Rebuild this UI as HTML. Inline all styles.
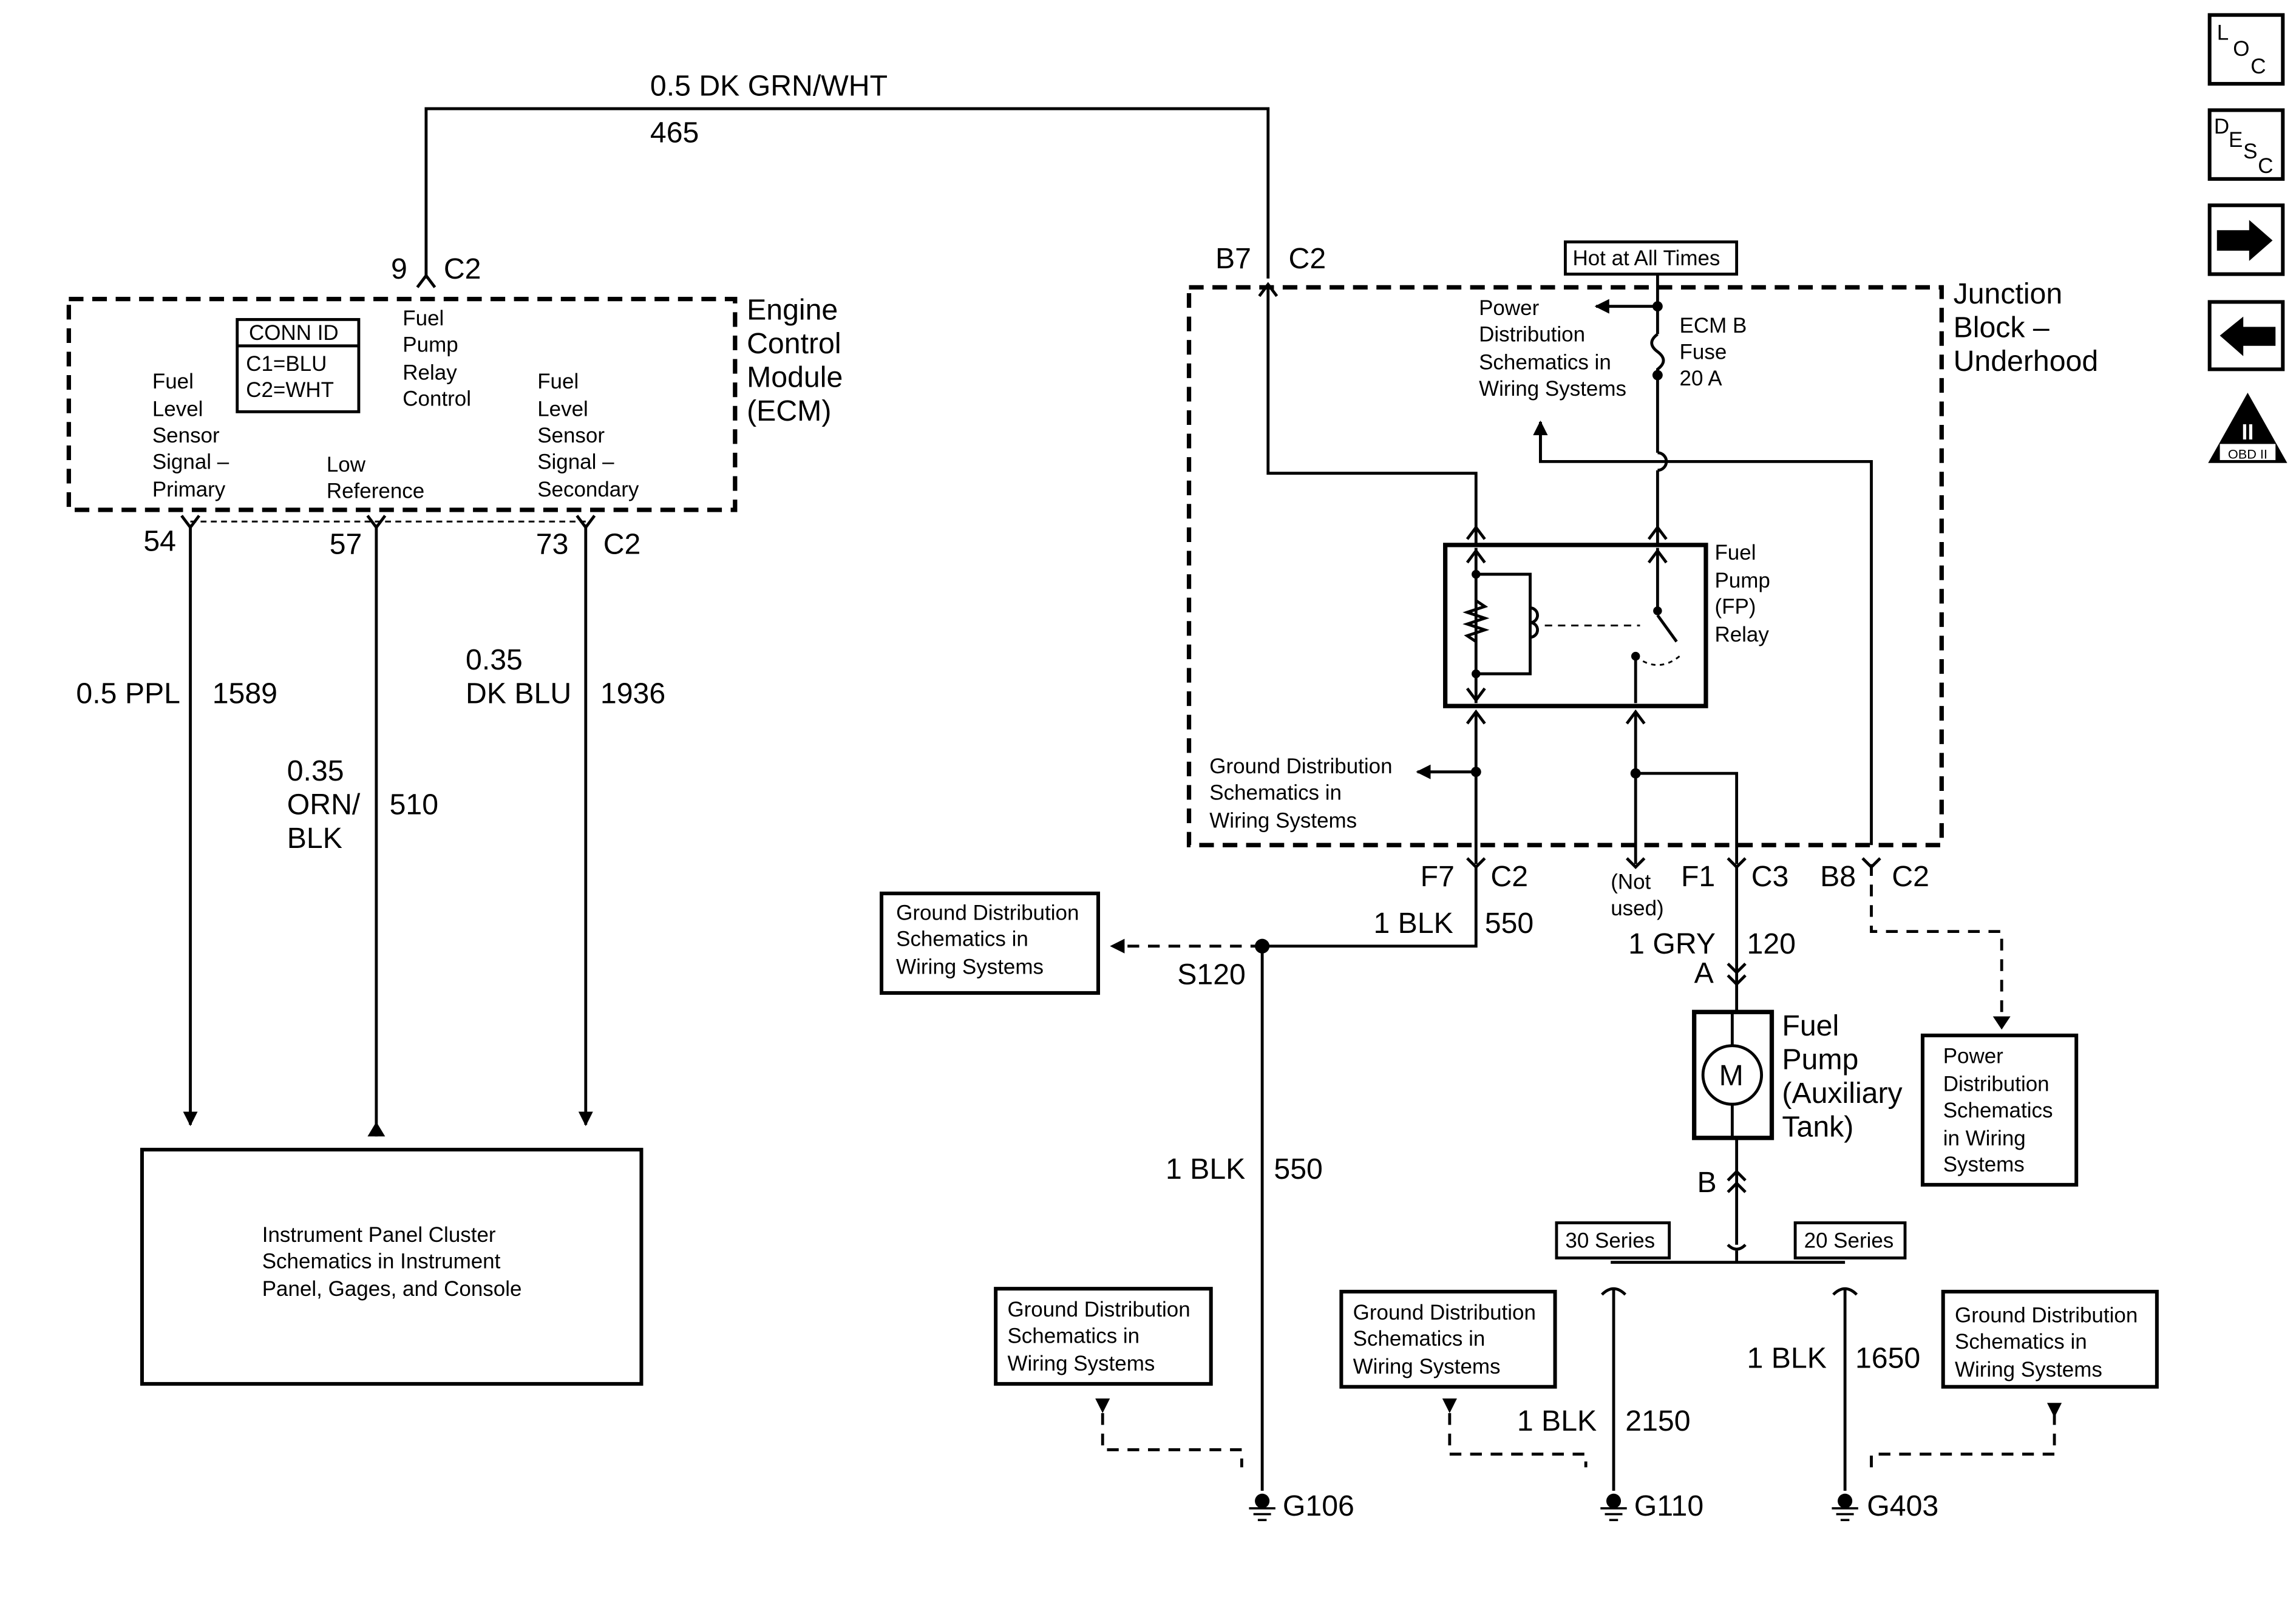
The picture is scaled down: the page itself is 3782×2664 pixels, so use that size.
<!DOCTYPE html>
<html><head><meta charset="utf-8">
<style>
html,body{margin:0;padding:0;background:#fff;}
svg{display:block;}
text{font-family:"Liberation Sans",Arial,sans-serif;fill:#000;}
.b{font-size:20px;}
.s{font-size:14.5px;}
</style></head>
<body>
<svg width="3782" height="2664" viewBox="0 0 1568 1104" xmlns="http://www.w3.org/2000/svg">
<defs>
<marker id="ar" markerWidth="10" markerHeight="10" refX="9" refY="5" orient="auto" markerUnits="userSpaceOnUse"><path d="M0,0 L10,5 L0,10 z" fill="#000"/></marker>
</defs>
<g fill="none" stroke="#000" stroke-width="2">
<!-- top wire -->
<polyline points="291,190 291,74 866,74 866,190"/>
<path d="M285,196 L291,188 L297,196"/>
<!-- ECM box -->
<rect x="47" y="204" width="455" height="144" stroke-width="3" stroke-dasharray="10,6"/>
<rect x="162" y="218" width="83" height="63"/>
<line x1="162" y1="236" x2="245" y2="236"/>
<line x1="130" y1="356" x2="400" y2="356" stroke-width="1.2" stroke-dasharray="4,3"/>
<path d="M124,352 L130,360 L136,352 M251,352 L257,360 L263,352 M394,352 L400,360 L406,352"/>
<line x1="130" y1="358" x2="130" y2="768" marker-end="url(#ar)"/>
<line x1="257" y1="358" x2="257" y2="776"/>
<line x1="400" y1="358" x2="400" y2="768" marker-end="url(#ar)"/>
<rect x="97" y="785" width="341" height="160" stroke-width="2.5"/>
<!-- Junction block -->
<rect x="812" y="196" width="514" height="381" stroke-width="3" stroke-dasharray="10,6"/>
<path d="M860,202 L866,194 L872,202"/>
<polyline points="866,196 866,323 1008,323 1008,372"/>
<path d="M1002,368 L1008,360 L1014,368 M1126,368 L1132,360 L1138,368"/>
<rect x="1069" y="165" width="117" height="22"/>
<line x1="1132" y1="187" x2="1132" y2="228"/>
<line x1="1132" y1="209" x2="1090" y2="209" marker-end="url(#ar)"/>
<path d="M1132,228 q-8,6 0,12 q8,6 0,12 l0,4"/>
<line x1="1132" y1="256" x2="1132" y2="309"/>
<path d="M1132,309 a6,6 0 0 1 0,12"/>
<line x1="1132" y1="321" x2="1132" y2="372"/>
<polyline points="1052,288 1052,315 1278,315 1278,577"/>
<line x1="1052" y1="315" x2="1052" y2="288" marker-end="url(#ar)"/>
<!-- relay -->
<rect x="987" y="372" width="178" height="110" stroke-width="3"/>
<line x1="1008" y1="374" x2="1008" y2="480"/>
<polyline points="1008,392 1045,392 1045,460 1008,460"/>
<path d="M1008,410 l6,4 l-12,4 l12,4 l-12,4 l12,4 l-12,4 l6,4"/>
<path d="M1045,415 a5,5 0 0 1 0,10 a5,5 0 0 1 0,10"/>
<line x1="1055" y1="427" x2="1120" y2="427" stroke-dasharray="5,4" stroke-width="1.2"/>
<line x1="1132" y1="374" x2="1132" y2="417"/>
<line x1="1132" y1="420" x2="1145" y2="438"/>
<line x1="1117" y1="448" x2="1117" y2="480"/>
<path d="M1117,448 q15,12 30,0" stroke-dasharray="3,3" stroke-width="1.2"/>
<path d="M1002,384 L1008,376 L1014,384 M1002,470 L1008,478 L1014,470 M1126,384 L1132,376 L1138,384"/>
<path d="M1002,494 L1008,486 L1014,494 M1111,494 L1117,486 L1123,494"/>
<line x1="1008" y1="486" x2="1008" y2="590"/>
<line x1="1008" y1="527" x2="968" y2="527" marker-end="url(#ar)"/>
<line x1="1117" y1="486" x2="1117" y2="590"/>
<polyline points="1117,528 1186,528 1186,590"/>
<path d="M1002,586 L1008,592 L1014,586 M1111,586 L1117,592 L1123,586 M1180,586 L1186,592 L1192,586 M1272,586 L1278,592 L1284,586"/>
<!-- below -->
<polyline points="1008,592 1008,646 862,646 862,1018"/>
<line x1="862" y1="646" x2="766" y2="646" stroke-dasharray="8,6"/>
<rect x="602" y="610" width="148" height="68" stroke-width="2.5"/>
<line x1="1186" y1="592" x2="1186" y2="691"/>
<path d="M1180,658 L1186,664 L1192,658 M1180,666 L1186,672 L1192,666"/>
<rect x="1157" y="691" width="53" height="86" stroke-width="3"/>
<circle cx="1183" cy="734" r="20"/>
<line x1="1183" y1="691" x2="1183" y2="714"/><line x1="1183" y1="754" x2="1183" y2="777"/>
<line x1="1186" y1="777" x2="1186" y2="850"/>
<path d="M1180,806 L1186,800 L1192,806 M1180,814 L1186,808 L1192,814"/>
<path d="M1180,850 q6,6 12,0" />
<line x1="1186" y1="854" x2="1186" y2="862"/>
<line x1="1100" y1="862" x2="1260" y2="862"/>
<rect x="1063" y="835" width="77" height="24"/>
<rect x="1226" y="835" width="75" height="24"/>
<path d="M1094,884 q8,-8 16,0 M1252,884 q8,-8 16,0"/>
<line x1="1102" y1="880" x2="1102" y2="1018"/>
<line x1="1260" y1="880" x2="1260" y2="1018"/>
<polyline points="1278,590 1278,636 1367,636 1367,694" stroke-dasharray="8,6"/>
<rect x="1313" y="707" width="105" height="102" stroke-width="2.5"/>
<rect x="680" y="880" width="147" height="65" stroke-width="2.5"/>
<rect x="916" y="882" width="146" height="65" stroke-width="2.5"/>
<rect x="1327" y="882" width="146" height="65" stroke-width="2.5"/>
<polyline points="753,965 753,990 848,990 848,1002" stroke-dasharray="8,6"/>
<polyline points="990,965 990,993 1083,993 1083,1002" stroke-dasharray="8,6"/>
<polyline points="1403,965 1403,993 1278,993 1278,1002" stroke-dasharray="8,6"/>
<!-- grounds -->
<g stroke-width="1.5">
<line x1="853" y1="1030" x2="871" y2="1030"/><line x1="856" y1="1034" x2="868" y2="1034"/><line x1="859" y1="1038" x2="865" y2="1038"/>
<line x1="1093" y1="1030" x2="1111" y2="1030"/><line x1="1096" y1="1034" x2="1108" y2="1034"/><line x1="1099" y1="1038" x2="1105" y2="1038"/>
<line x1="1251" y1="1030" x2="1269" y2="1030"/><line x1="1254" y1="1034" x2="1266" y2="1034"/><line x1="1257" y1="1038" x2="1263" y2="1038"/>
</g>
<!-- icons -->
<rect x="1509" y="10" width="50" height="47" stroke-width="2.5"/>
<rect x="1509" y="75" width="50" height="47" stroke-width="2.5"/>
<rect x="1509" y="140" width="50" height="47" stroke-width="2.5"/>
<rect x="1509" y="206" width="50" height="46" stroke-width="2.5"/>
</g>
<g fill="#000">
<circle cx="1132" cy="209" r="3.5"/><circle cx="1132" cy="256" r="3.5"/>
<circle cx="1008" cy="527" r="3.5"/><circle cx="1117" cy="528" r="3.5"/>
<circle cx="1008" cy="392" r="3"/><circle cx="1008" cy="460" r="3"/><circle cx="1132" cy="417" r="3"/><circle cx="1117" cy="448" r="3"/>
<circle cx="862" cy="646" r="5"/>
<circle cx="862" cy="1025" r="5"/><circle cx="1102" cy="1025" r="5"/><circle cx="1260" cy="1025" r="5"/>
<path d="M251,776 L257,766 L263,776 z"/>
<path d="M758,646 L768,641 L768,651 z"/>
<path d="M1361,694 L1373,694 L1367,703 z"/>
<path d="M748,955 L758,955 L753,965 z"/>
<path d="M985,955 L995,955 L990,965 z"/>
<path d="M1398,958 L1408,958 L1403,968 z"/>
<path d="M1514,157 L1536,157 L1536,150 L1552,164 L1536,178 L1536,171 L1514,171 z"/>
<path d="M1554,223 L1532,223 L1532,216 L1516,229 L1532,243 L1532,236 L1554,236 z"/>
<path d="M1535,268 L1562,316 L1508,316 z"/>
</g>
<rect x="1516" y="303" width="38" height="11" fill="#fff"/>
<text x="1535" y="313" font-size="9" text-anchor="middle">OBD II</text>
<text x="1535" y="300" font-size="15" text-anchor="middle" fill="#fff" style="fill:#fff" font-weight="bold">II</text>
<text x="1514" y="27" class="s">L</text><text x="1525" y="38" class="s">O</text><text x="1537" y="50" class="s">C</text>
<text x="1512" y="91" class="s">D</text><text x="1522" y="100" class="s">E</text><text x="1532" y="108" class="s">S</text><text x="1542" y="118" class="s">C</text>

<text x="444" y="65" class="b">0.5 DK GRN/WHT</text>
<text x="444" y="97" class="b">465</text>
<text x="267" y="190" class="b">9</text><text x="303" y="190" class="b">C2</text>
<text x="510" y="218" class="b">Engine</text><text x="510" y="241" class="b">Control</text><text x="510" y="264" class="b">Module</text><text x="510" y="287" class="b">(ECM)</text>
<text x="170" y="232" class="s">CONN ID</text><text x="168" y="253" class="s">C1=BLU</text><text x="168" y="271" class="s">C2=WHT</text>
<text x="275" y="222" class="s">Fuel</text><text x="275" y="240" class="s">Pump</text><text x="275" y="259" class="s">Relay</text><text x="275" y="277" class="s">Control</text>
<text x="104" y="265" class="s">Fuel</text><text x="104" y="284" class="s">Level</text><text x="104" y="302" class="s">Sensor</text><text x="104" y="320" class="s">Signal –</text><text x="104" y="339" class="s">Primary</text>
<text x="223" y="322" class="s">Low</text><text x="223" y="340" class="s">Reference</text>
<text x="367" y="265" class="s">Fuel</text><text x="367" y="284" class="s">Level</text><text x="367" y="302" class="s">Sensor</text><text x="367" y="320" class="s">Signal –</text><text x="367" y="339" class="s">Secondary</text>
<text x="98" y="376" class="b">54</text><text x="225" y="378" class="b">57</text><text x="366" y="378" class="b">73</text><text x="412" y="378" class="b">C2</text>
<text x="52" y="480" class="b">0.5 PPL</text><text x="145" y="480" class="b">1589</text>
<text x="318" y="457" class="b">0.35</text><text x="318" y="480" class="b">DK BLU</text><text x="410" y="480" class="b">1936</text>
<text x="196" y="533" class="b">0.35</text><text x="196" y="556" class="b">ORN/</text><text x="196" y="579" class="b">BLK</text><text x="266" y="556" class="b">510</text>
<text x="179" y="848" class="s">Instrument Panel Cluster</text><text x="179" y="866" class="s">Schematics in Instrument</text><text x="179" y="885" class="s">Panel, Gages, and Console</text>
<text x="830" y="183" class="b">B7</text><text x="880" y="183" class="b">C2</text>
<text x="1074" y="181" class="s">Hot at All Times</text>
<text x="1010" y="215" class="s">Power</text><text x="1010" y="233" class="s">Distribution</text><text x="1010" y="252" class="s">Schematics in</text><text x="1010" y="270" class="s">Wiring Systems</text>
<text x="1147" y="227" class="s">ECM B</text><text x="1147" y="245" class="s">Fuse</text><text x="1147" y="263" class="s">20 A</text>
<text x="1334" y="207" class="b">Junction</text><text x="1334" y="230" class="b">Block –</text><text x="1334" y="253" class="b">Underhood</text>
<text x="1171" y="382" class="s">Fuel</text><text x="1171" y="401" class="s">Pump</text><text x="1171" y="419" class="s">(FP)</text><text x="1171" y="438" class="s">Relay</text>
<text x="826" y="528" class="s">Ground Distribution</text><text x="826" y="546" class="s">Schematics in</text><text x="826" y="565" class="s">Wiring Systems</text>
<text x="970" y="605" class="b">F7</text><text x="1018" y="605" class="b">C2</text>
<text x="1100" y="607" class="s">(Not</text><text x="1100" y="625" class="s">used)</text>
<text x="1148" y="605" class="b">F1</text><text x="1196" y="605" class="b">C3</text>
<text x="1243" y="605" class="b">B8</text><text x="1292" y="605" class="b">C2</text>
<text x="612" y="628" class="s">Ground Distribution</text><text x="612" y="646" class="s">Schematics in</text><text x="612" y="665" class="s">Wiring Systems</text>
<text x="938" y="637" class="b">1 BLK</text><text x="1014" y="637" class="b">550</text>
<text x="804" y="672" class="b">S120</text>
<text x="1112" y="651" class="b">1 GRY</text><text x="1193" y="651" class="b">120</text>
<text x="1157" y="671" class="b">A</text>
<text x="1174" y="741" class="b">M</text>
<text x="1217" y="707" class="b">Fuel</text><text x="1217" y="730" class="b">Pump</text><text x="1217" y="753" class="b">(Auxiliary</text><text x="1217" y="776" class="b">Tank)</text>
<text x="1327" y="726" class="s">Power</text><text x="1327" y="745" class="s">Distribution</text><text x="1327" y="763" class="s">Schematics</text><text x="1327" y="782" class="s">in Wiring</text><text x="1327" y="800" class="s">Systems</text>
<text x="1159" y="814" class="b">B</text>
<text x="796" y="805" class="b">1 BLK</text><text x="870" y="805" class="b">550</text>
<text x="1069" y="852" class="s">30 Series</text><text x="1232" y="852" class="s">20 Series</text>
<text x="688" y="899" class="s">Ground Distribution</text><text x="688" y="917" class="s">Schematics in</text><text x="688" y="936" class="s">Wiring Systems</text>
<text x="924" y="901" class="s">Ground Distribution</text><text x="924" y="919" class="s">Schematics in</text><text x="924" y="938" class="s">Wiring Systems</text>
<text x="1335" y="903" class="s">Ground Distribution</text><text x="1335" y="921" class="s">Schematics in</text><text x="1335" y="940" class="s">Wiring Systems</text>
<text x="1193" y="934" class="b">1 BLK</text><text x="1267" y="934" class="b">1650</text>
<text x="1036" y="977" class="b">1 BLK</text><text x="1110" y="977" class="b">2150</text>
<text x="876" y="1035" class="b">G106</text><text x="1116" y="1035" class="b">G110</text><text x="1275" y="1035" class="b">G403</text>
</svg>
</body></html>
